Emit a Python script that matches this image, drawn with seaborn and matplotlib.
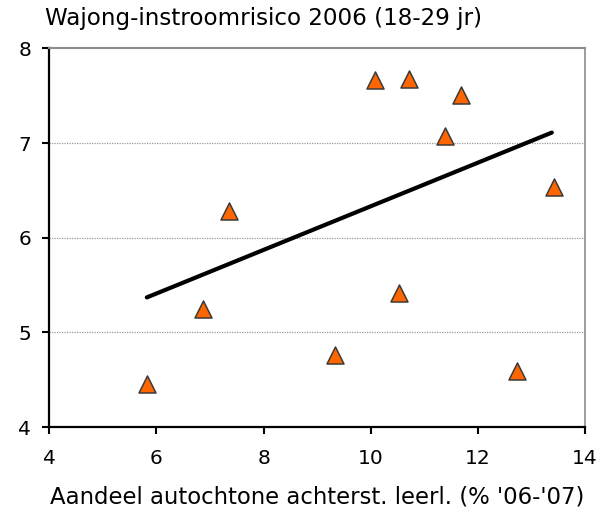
import matplotlib
matplotlib.use("Agg")
import matplotlib.pyplot as plt
import seaborn as sns
import pandas as pd

# Values
aandeel = [5.82, 6.86, 7.35, 9.33, 10.08, 10.71, 11.68, 11.38, 13.43, 10.52, 12.73]
risico = [4.46, 5.25, 6.28, 4.76, 7.66, 7.68, 7.51, 7.07, 6.54, 5.42, 4.59]

# Trend line endpoints
trend_x = [5.82, 13.38]
trend_y = [5.37, 7.11]

x_ticks = [4, 6, 8, 10, 12, 14]
y_ticks = [4, 5, 6, 7, 8]

df = pd.DataFrame({'aandeel': aandeel, 'risico': risico})

sns.set_style("white")
plt.rcParams['font.family'] = ['DejaVu Sans']
plt.rcParams['text.color'] = 'black'
plt.rcParams['axes.labelcolor'] = 'black'
plt.rcParams['xtick.color'] = 'black'
plt.rcParams['ytick.color'] = 'black'

fig = plt.figure(figsize=(6.05, 5.08), dpi=100)
ax = fig.add_axes([0.0815, 0.159, 0.8855, 0.746])

# Gridlines first so they sit underneath
for yv in y_ticks[1:-1]:
    ax.axhline(yv, color='#9a9a9a', lw=0.9, linestyle=(0, (1, 1)), zorder=0)

sns.lineplot(x=trend_x, y=trend_y, color='black', lw=3, ax=ax, zorder=2)
sns.scatterplot(data=df, x='aandeel', y='risico', marker='^', s=150,
                color='#ff6600', edgecolor='#3a3a3a', linewidth=1.1,
                ax=ax, zorder=3)

ax.set_xlim(4, 14)
ax.set_ylim(4, 8)
ax.set_xticks(x_ticks)
ax.set_yticks(y_ticks)
ax.tick_params(axis='x', direction='out', length=5, width=1.5, color='black',
               labelsize=14.5, pad=11, bottom=True, labelcolor='black')
ax.tick_params(axis='y', direction='out', length=5, width=1.5, color='black',
               labelsize=14.5, pad=8, left=True, labelcolor='black')

ax.spines['left'].set_color('black')
ax.spines['left'].set_linewidth(1.6)
ax.spines['bottom'].set_color('black')
ax.spines['bottom'].set_linewidth(1.6)
ax.spines['top'].set_color('#8c8c8c')
ax.spines['top'].set_linewidth(1.5)
ax.spines['right'].set_color('#8c8c8c')
ax.spines['right'].set_linewidth(1.2)

ax.set_xlabel("Aandeel autochtone achterst. leerl. (% '06-'07)", fontsize=16.4,
              labelpad=12, color='black')
ax.set_ylabel('')
fig.text(0.074, 0.951, 'Wajong-instroomrisico 2006 (18-29 jr)', fontsize=16.6,
         ha='left', va='baseline', color='black')

fig.savefig('out.png', dpi=100)
